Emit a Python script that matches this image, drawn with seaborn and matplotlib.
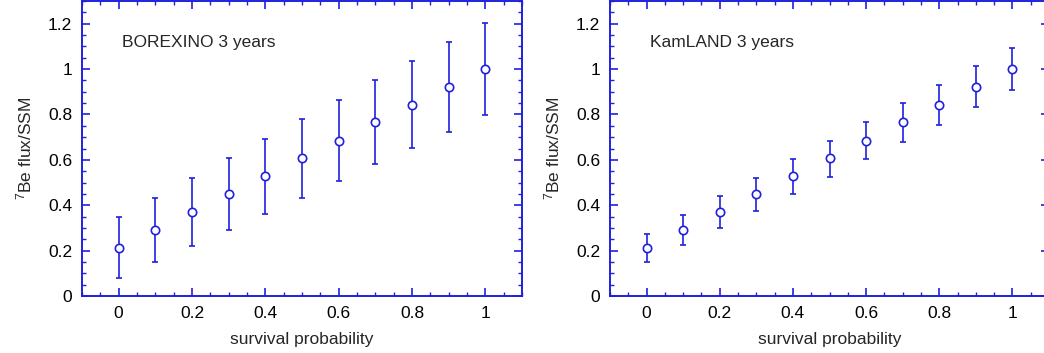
import numpy as np
import pandas as pd
import matplotlib
matplotlib.use("Agg")
import matplotlib.pyplot as plt
import seaborn as sns
from matplotlib.ticker import MultipleLocator

sns.set_style("ticks")
plt.rcParams['font.family'] = ['Liberation Sans', 'DejaVu Sans']
plt.rcParams['mathtext.fontset'] = 'custom'
plt.rcParams['mathtext.rm'] = 'Liberation Sans'
plt.rcParams['mathtext.it'] = 'Liberation Sans:italic'
plt.rcParams['mathtext.bf'] = 'Liberation Sans:bold'

# Data
survival = [0.0, 0.1, 0.2, 0.3, 0.4, 0.5, 0.6, 0.7, 0.8, 0.9, 1.0]
flux = [0.213, 0.291, 0.371, 0.450, 0.528, 0.606, 0.685, 0.765, 0.843, 0.922, 1.000]
borexino_hi = [0.346, 0.432, 0.518, 0.606, 0.694, 0.779, 0.865, 0.950, 1.035, 1.118, 1.204]
borexino_lo = [0.081, 0.151, 0.221, 0.293, 0.363, 0.434, 0.506, 0.581, 0.651, 0.724, 0.796]
kamland_hi = [0.275, 0.357, 0.440, 0.522, 0.603, 0.685, 0.766, 0.849, 0.929, 1.012, 1.091]
kamland_lo = [0.149, 0.224, 0.299, 0.376, 0.451, 0.526, 0.603, 0.679, 0.754, 0.832, 0.909]
panel_titles = ["BOREXINO 3 years", "KamLAND 3 years"]
xticks = [0, 0.2, 0.4, 0.6, 0.8, 1]
xticklabels = ["0", "0.2", "0.4", "0.6", "0.8", "1"]
yticks = [0, 0.2, 0.4, 0.6, 0.8, 1, 1.2]
yticklabels = ["0", "0.2", "0.4", "0.6", "0.8", "1", "1.2"]

blue = '#2020dc'
W, H = 1044, 353
fig = plt.figure(figsize=(W / 100, H / 100), dpi=100)

def px_axes(x0, x1, y0, y1):
    return fig.add_axes([x0 / W, 1 - y1 / H, (x1 - x0) / W, (y1 - y0) / H])

axes = [px_axes(82, 522, 1, 296), px_axes(610, 1049, 1, 296)]
errs = [(borexino_lo, borexino_hi), (kamland_lo, kamland_hi)]

FS = 12.5
for ax, title, (lo, hi) in zip(axes, panel_titles, errs):
    df = pd.DataFrame({"p": survival, "f": flux, "lo": lo, "hi": hi})
    yerr = np.array([df["f"] - df["lo"], df["hi"] - df["f"]])
    ax.errorbar(df["p"], df["f"], yerr=yerr, fmt='none', ecolor=blue,
                elinewidth=1.2, capsize=2.2, capthick=1.2, zorder=2)
    sns.scatterplot(data=df, x="p", y="f", ax=ax, marker='o', s=36,
                    facecolor='white', edgecolor=blue, linewidth=1.2, zorder=3)
    ax.set_xlim(-0.1, 1.1)
    ax.set_ylim(0, 1.3)
    ax.set_xticks(xticks)
    ax.set_xticklabels(xticklabels)
    ax.set_yticks(yticks)
    ax.set_yticklabels(yticklabels)
    ax.xaxis.set_minor_locator(MultipleLocator(0.05))
    ax.yaxis.set_minor_locator(MultipleLocator(0.05))
    ax.tick_params(which='both', direction='in', top=True, right=True,
                   color=blue, labelcolor='black', labelsize=FS)
    ax.tick_params(which='major', length=6, width=1.2, pad=7)
    ax.tick_params(which='minor', length=3, width=1.0)
    for s in ax.spines.values():
        s.set_color(blue)
        s.set_linewidth(1.4)
    ax.set_xlabel("survival probability", fontsize=FS, labelpad=8)
    ax.set_ylabel(r"$^{7}$Be flux/SSM", fontsize=FS, labelpad=10)
    ax.text(0.01, 1.115, title, fontsize=FS, ha='left', va='center')

fig.savefig("out.png", dpi=100)
